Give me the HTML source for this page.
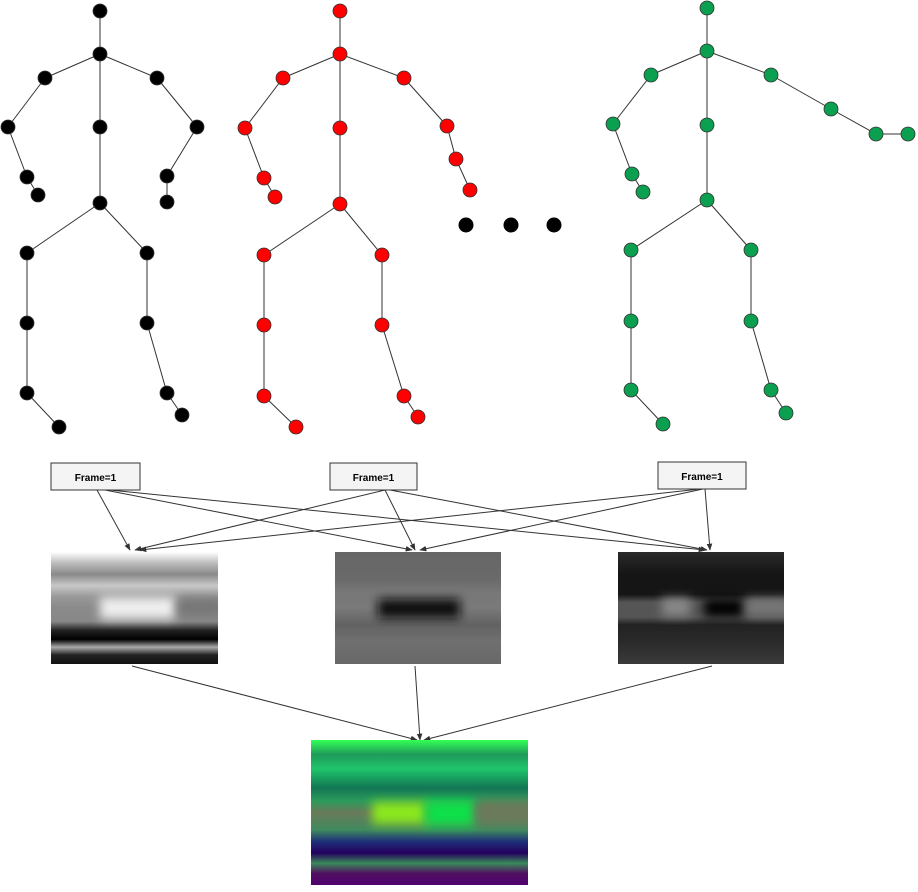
<!DOCTYPE html>
<html><head><meta charset="utf-8"><style>
body{margin:0;background:#fff;width:918px;height:887px;overflow:hidden;font-family:"Liberation Sans",sans-serif}
</style></head><body>
<svg id="s" width="918" height="887" xmlns="http://www.w3.org/2000/svg">
<defs>
<marker id="ar" viewBox="0 0 10 10" refX="9" refY="5" markerWidth="7" markerHeight="7" orient="auto"><path d="M0,1 L10,5 L0,9 z" fill="#333"/></marker>
<linearGradient id="g1" x1="0" y1="0" x2="0" y2="1">
<stop offset="0" stop-color="#fff"/><stop offset=".1" stop-color="#bbb"/><stop offset=".2" stop-color="#8a8a8a"/><stop offset=".3" stop-color="#c8c8c8"/><stop offset=".4" stop-color="#999"/><stop offset=".5" stop-color="#8a8a8a"/><stop offset=".62" stop-color="#888"/><stop offset=".7" stop-color="#222"/><stop offset=".78" stop-color="#000"/><stop offset=".85" stop-color="#aaa"/><stop offset=".92" stop-color="#222"/><stop offset="1" stop-color="#111"/></linearGradient>
<linearGradient id="g2" x1="0" y1="0" x2="0" y2="1">
<stop offset="0" stop-color="#666"/><stop offset=".25" stop-color="#6a6a6a"/><stop offset=".35" stop-color="#777"/><stop offset=".5" stop-color="#7a7a7a"/><stop offset=".65" stop-color="#626262"/><stop offset=".8" stop-color="#707070"/><stop offset="1" stop-color="#686868"/></linearGradient>
<linearGradient id="g3" x1="0" y1="0" x2="0" y2="1">
<stop offset="0" stop-color="#2a2a2a"/><stop offset=".2" stop-color="#151515"/><stop offset=".38" stop-color="#151515"/><stop offset=".45" stop-color="#555"/><stop offset=".58" stop-color="#555"/><stop offset=".65" stop-color="#222"/><stop offset=".8" stop-color="#2a2a2a"/><stop offset="1" stop-color="#3a3a3a"/></linearGradient>
<linearGradient id="g4" x1="0" y1="0" x2="0" y2="1">
<stop offset="0" stop-color="#33ff55"/><stop offset=".1" stop-color="#1f9a5a"/><stop offset=".2" stop-color="#1fc56a"/><stop offset=".33" stop-color="#137655"/><stop offset=".42" stop-color="#2b9b5b"/><stop offset=".5" stop-color="#6a7a5a"/><stop offset=".62" stop-color="#3f8a5f"/><stop offset=".7" stop-color="#1d2f78"/><stop offset=".78" stop-color="#24005f"/><stop offset=".85" stop-color="#3a8a5a"/><stop offset=".92" stop-color="#501060"/><stop offset="1" stop-color="#500070"/></linearGradient>
<filter id="bl" x="-50%" y="-50%" width="200%" height="200%"><feGaussianBlur stdDeviation="5"/></filter>
<clipPath id="c1"><rect x="51" y="552" width="167" height="112"/></clipPath>
<clipPath id="c2"><rect x="335" y="552" width="166" height="112"/></clipPath>
<clipPath id="c3"><rect x="618" y="552" width="166" height="112"/></clipPath>
<clipPath id="c4"><rect x="311" y="740" width="217" height="145"/></clipPath>
</defs>
<g id="skels"></g>
<g>
<circle cx="466" cy="225" r="7.5"/><circle cx="511" cy="225" r="7.5"/><circle cx="554" cy="225" r="7.5"/></g>
<g id="arrows" stroke="#333" stroke-width="1" fill="none"></g>
<g><rect x="51" y="463" width="89" height="27" fill="#f4f4f4" stroke="#333"/><text x="95.5" y="481" font-size="10" font-weight="bold" text-anchor="middle">Frame=1</text></g>
<g><rect x="330" y="463" width="87" height="27" fill="#f4f4f4" stroke="#333"/><text x="373.5" y="481" font-size="10" font-weight="bold" text-anchor="middle">Frame=1</text></g>
<g><rect x="658" y="462" width="88" height="27" fill="#f4f4f4" stroke="#333"/><text x="702" y="480" font-size="10" font-weight="bold" text-anchor="middle">Frame=1</text></g>
<g clip-path="url(#c1)"><rect x="51" y="552" width="167" height="112" fill="url(#g1)"/><rect x="100" y="597" width="75" height="22" fill="#eee" filter="url(#bl)"/><rect x="178" y="598" width="45" height="18" fill="#777" filter="url(#bl)"/></g>
<g clip-path="url(#c2)"><rect x="335" y="552" width="166" height="112" fill="url(#g2)"/><rect x="378" y="599" width="82" height="19" fill="#0a0a0a" filter="url(#bl)"/></g>
<g clip-path="url(#c3)"><rect x="618" y="552" width="166" height="112" fill="url(#g3)"/><rect x="662" y="598" width="28" height="18" fill="#888" filter="url(#bl)"/><rect x="704" y="599" width="40" height="18" fill="#000" filter="url(#bl)"/><rect x="746" y="598" width="45" height="18" fill="#777" filter="url(#bl)"/></g>
<g clip-path="url(#c4)"><rect x="311" y="740" width="217" height="145" fill="url(#g4)"/><rect x="372" y="802" width="55" height="22" fill="#8ae81a" filter="url(#bl)"/><rect x="425" y="800" width="50" height="26" fill="#0de04a" filter="url(#bl)"/><rect x="476" y="800" width="60" height="24" fill="#6a7a5a" filter="url(#bl)"/></g>
</svg>
<script>
const skeletons=[
{name:'black',fill:'#000',pts:[[100,11],[100,54],[45,78],[157,78],[8,127],[197,127],[27,177],[167,176],[38,195],[167,202],[100,127],[100,203],[27,253],[147,253],[27,323],[147,323],[27,393],[167,393],[59,427],[182,415]]},
{name:'red',fill:'#f00',pts:[[340,11],[340,54],[283,78],[404,78],[245,128],[447,126],[264,178],[456,159],[275,197],[470,190],[340,128],[340,204],[264,255],[382,255],[264,325],[382,325],[264,396],[404,396],[296,427],[418,417]]},
{name:'green',fill:'#0aa050',pts:[[707,8],[707,51],[651,75],[771,75],[613,124],[831,109],[632,174],[876,134],[643,192],[908,134],[707,125],[707,200],[631,250],[751,250],[631,321],[751,321],[631,390],[771,390],[663,424],[786,413]]}];
const bones=[[0,1],[1,2],[1,3],[2,4],[3,5],[4,6],[5,7],[6,8],[7,9],[1,10],[10,11],[11,12],[11,13],[12,14],[13,15],[14,16],[15,17],[16,18],[17,19]];
const NS='http://www.w3.org/2000/svg';
const sk=document.getElementById('skels');
skeletons.forEach(s=>{
const g=document.createElementNS(NS,'g');


bones.forEach(b=>{const l=document.createElementNS(NS,'line');
l.setAttribute('x1',s.pts[b[0]][0]);l.setAttribute('y1',s.pts[b[0]][1]);l.setAttribute('x2',s.pts[b[1]][0]);l.setAttribute('y2',s.pts[b[1]][1]);l.setAttribute('stroke','#333');g.appendChild(l);});
s.pts.forEach(p=>{const c=document.createElementNS(NS,'circle');


c.setAttribute('cx',p[0]);c.setAttribute('cy',p[1]);c.setAttribute('r',7);c.setAttribute('fill',s.fill);c.setAttribute('stroke','#333');c.setAttribute('stroke-width','0.8');g.appendChild(c);});
sk.appendChild(g);});
const arrows=[[97,490,130,550],[105,490,412,550],[110,490,705,550],[385,490,135,550],[385,490,415,550],[390,490,707,550],[700,489,140,550],[703,489,420,550],[705,489,710,550],[132,666,417,740],[415,666,420,740],[712,666,424,740]];
const ag=document.getElementById('arrows');
arrows.forEach(a=>{const l=document.createElementNS(NS,'line');


l.setAttribute('x1',a[0]);l.setAttribute('y1',a[1]);l.setAttribute('x2',a[2]);l.setAttribute('y2',a[3]);l.setAttribute('marker-end','url(#ar)');ag.appendChild(l);});
</script>
</body></html>
